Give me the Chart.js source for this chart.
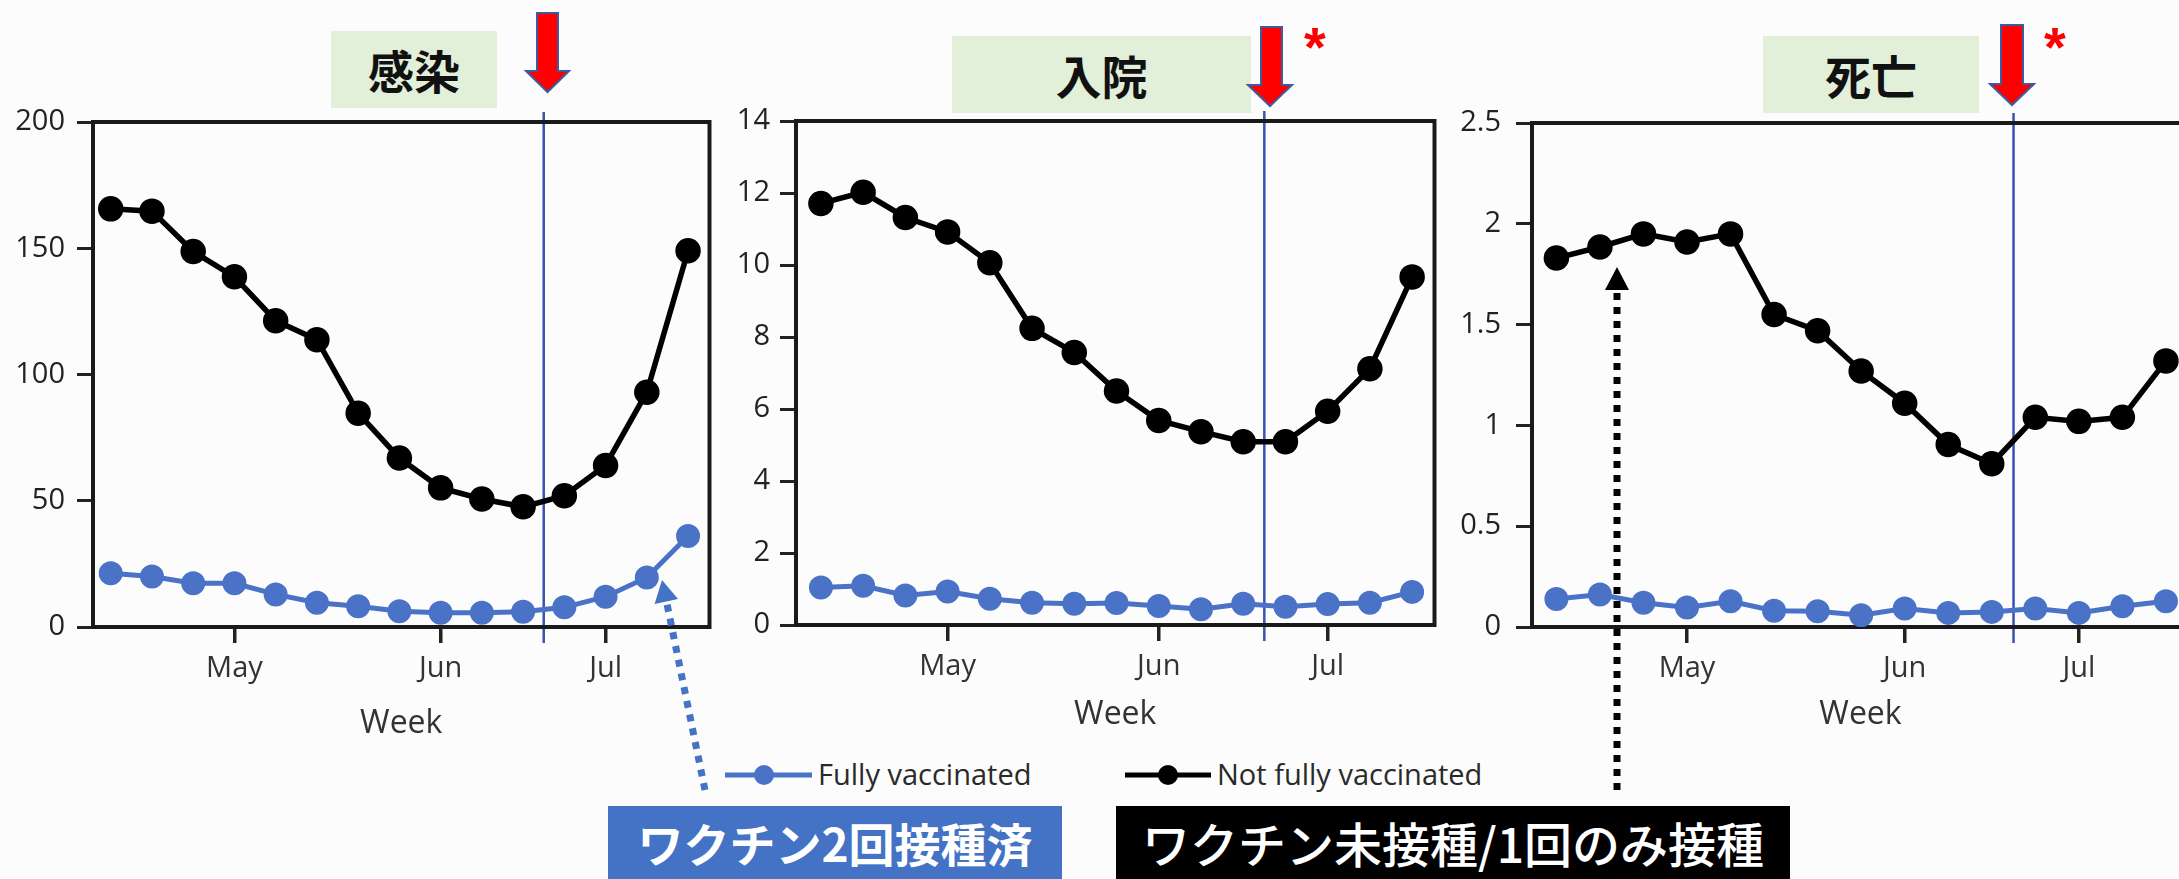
<!DOCTYPE html>
<html>
<head>
<meta charset="utf-8">
<script src="https://cdn.jsdelivr.net/npm/chart.js@4.4.0/dist/chart.umd.min.js"></script>
<style>
body { margin: 0; width: 2179px; height: 879px; overflow: hidden; background: #fbfcfb; position: relative; font-family: 'Open Sans', sans-serif; }
.wrap { position: absolute; }
.title { position: absolute; background: #e2efd9; color: #111; font-family: 'Noto Sans CJK JP', sans-serif; font-weight: 700; font-size: 46px; text-align: center; }
.leg { position: absolute; font-family: 'Open Sans', sans-serif; font-size: 29px; color: #2a2a2a; height: 40px; line-height: 40px; white-space: nowrap; }
.tag { position: absolute; color: #fff; font-family: 'Noto Sans CJK JP', sans-serif; text-align: center; white-space: nowrap; }
svg { position: absolute; left: 0; top: 0; }
</style>
</head>
<body>

<div class="wrap" style="left:0px;top:0px;width:725px;height:743px"><canvas id="cases"></canvas></div>
<div class="wrap" style="left:720px;top:0px;width:730px;height:734px"><canvas id="hosp"></canvas></div>
<div class="wrap" style="left:1450px;top:0px;width:760px;height:734px"><canvas id="death"></canvas></div>

<div class="title" style="left:331px;top:31px;width:166px;height:77px;line-height:77px">感染</div>
<div class="title" style="left:952px;top:36px;width:299px;height:77px;line-height:77px">入院</div>
<div class="title" style="left:1763px;top:36px;width:216px;height:77px;line-height:77px">死亡</div>

<div class="leg" style="left:818px;top:754px">Fully vaccinated</div>
<div class="leg" style="left:1217px;top:754px">Not fully vaccinated</div>

<div class="tag" style="left:608px;top:806px;width:454px;height:73px;line-height:73px;background:#4472c4;font-size:46px;font-weight:700">ワクチン2回接種済</div>
<div class="tag" style="left:1116px;top:806px;width:674px;height:73px;line-height:73px;background:#000;font-size:48px;font-weight:500">ワクチン未接種/1回のみ接種</div>

<svg width="2179" height="879">
  <!-- red arrows at the Delta line -->
  <g fill="#ff0000" stroke="#3f5a9e" stroke-width="2">
    <polygon points="537,13 558,13 558,71 569,71 547.5,92 526,71 537,71"/>
    <polygon points="1261,27 1282,27 1282,85 1292,85 1270,106 1248,85 1261,85"/>
    <polygon points="2001,25 2023,25 2023,84 2034,84 2012,105 1990,84 2001,84"/>
  </g>
  <text x="1315" y="66" fill="#ff0000" font-family="Liberation Sans" font-weight="700" font-size="56" text-anchor="middle">*</text>
  <text x="2055" y="66" fill="#ff0000" font-family="Liberation Sans" font-weight="700" font-size="56" text-anchor="middle">*</text>

  <!-- legend markers -->
  <line x1="725" y1="775" x2="812" y2="775" stroke="#4a72c6" stroke-width="5"/>
  <circle cx="764" cy="775" r="10" fill="#4a72c6"/>
  <line x1="1125" y1="775" x2="1211" y2="775" stroke="#000" stroke-width="5"/>
  <circle cx="1168" cy="775" r="10" fill="#000"/>

  <!-- dotted pointers -->
  <line x1="705" y1="790" x2="667" y2="604" stroke="#4472c4" stroke-width="7" stroke-dasharray="7 7"/>
  <polygon points="662,580 678,599 654.6,604" fill="#4472c4"/>
  <line x1="1617" y1="790" x2="1617" y2="290" stroke="#000" stroke-width="7" stroke-dasharray="7 7"/>
  <polygon points="1617,267 1629,290 1605,290" fill="#000"/>
</svg>

<script>
// week starting dates (x index = position in this list)
const weeks = ['4/4', '4/11', '4/18', '4/25', '5/2', '5/9', '5/16', '5/23', '5/30', '6/6', '6/13', '6/20', '6/27', '7/4', '7/11']
const monthTicks = [3, 8, 12]
const monthLabels = ['May', 'Jun', 'Jul']
const deltaWeek = 10.5

const casesNot = [165.6, 164.7, 148.7, 138.7, 121.3, 113.8, 84.7, 66.9, 55.1, 50.7, 47.6, 52, 64, 93, 149]
const casesFull = [21.3, 20, 17.3, 17.3, 12.9, 9.6, 8.2, 6.2, 5.6, 5.6, 6, 7.8, 12, 19.6, 36]
const hospNot = [11.71, 12.02, 11.32, 10.92, 10.06, 8.24, 7.57, 6.5, 5.68, 5.37, 5.09, 5.09, 5.94, 7.12, 9.67]
const hospFull = [1.04, 1.09, 0.82, 0.93, 0.73, 0.62, 0.59, 0.61, 0.53, 0.44, 0.59, 0.51, 0.58, 0.62, 0.92]
const deathNot = [1.83, 1.885, 1.95, 1.91, 1.95, 1.55, 1.47, 1.27, 1.11, 0.905, 0.81, 1.04, 1.02, 1.04, 1.32]
const deathFull = [0.139, 0.161, 0.12, 0.097, 0.128, 0.081, 0.078, 0.058, 0.092, 0.07, 0.075, 0.092, 0.07, 0.103, 0.128]

const boxPlugin = {
    id: 'box',
    beforeDatasetsDraw(chart) {
        const {ctx, chartArea: a, scales: {x}} = chart
        ctx.save()
        let ex = x.getPixelForValue(deltaWeek)
        ctx.strokeStyle = '#3852b2'
        ctx.lineWidth = 2.5
        ctx.beginPath()
        ctx.moveTo(ex, a.top - 10)
        ctx.lineTo(ex, a.bottom + 16)
        ctx.stroke()
        ctx.strokeStyle = '#1a1a1a'
        ctx.lineWidth = 4
        ctx.strokeRect(a.left, a.top, a.right - a.left, a.bottom - a.top)
        ctx.restore()
    }
}

function toPoints(arr) {
    return arr.map((v, i) => ({x: i, y: v}))
}

function weekChart(id, notFull, full, o) {
    const data = {
        labels: weeks,
        datasets: [{
                label: 'Not fully vaccinated',
                data: toPoints(notFull),
                borderColor: '#000',
                backgroundColor: '#000',
                borderWidth: 5.5,
                pointRadius: 10,
                pointHoverRadius: 10
            }, {
                label: 'Fully vaccinated',
                data: toPoints(full),
                borderColor: '#4a72c6',
                backgroundColor: '#4a72c6',
                borderWidth: 5,
                pointRadius: 9.5,
                pointHoverRadius: 9.5
            }]
    }

    const config = {
        type: 'line',
        data: data,
        options: {
            responsive: true,
            maintainAspectRatio: false,
            animation: false,
            layout: {padding: {top: o.top, right: o.right, left: 0, bottom: 0}},
            plugins: {legend: {display: false}, tooltip: {enabled: false}},
            scales: {
                x: {
                    type: 'linear',
                    min: o.xMin,
                    max: o.xMax,
                    afterBuildTicks: s => { s.ticks = monthTicks.map(v => ({value: v})) },
                    afterFit: s => { s.height = o.xH },
                    ticks: {
                        callback: (v, i) => monthLabels[i],
                        autoSkip: false,
                        maxRotation: 0,
                        padding: 8,
                        color: '#333',
                        font: {family: 'Open Sans', size: 29}
                    },
                    grid: {drawOnChartArea: false, tickLength: 16, lineWidth: 3.5, color: '#222'},
                    border: {display: false},
                    title: {display: true, text: 'Week', color: '#333', padding: 0, font: {family: 'Open Sans', size: 32}}
                },
                y: {
                    min: 0,
                    max: o.yMax,
                    afterFit: s => { s.width = o.yW },
                    ticks: {
                        stepSize: o.step,
                        padding: o.pad,
                        color: '#222',
                        callback: v => String(+v.toFixed(1)),
                        font: {family: 'Open Sans', size: 29}
                    },
                    grid: {drawOnChartArea: false, tickLength: 16, lineWidth: 3, color: '#222'},
                    border: {display: false}
                }
            }
        },
        plugins: [boxPlugin]
    }

    let ctx = document.getElementById(id).getContext('2d')
    new Chart(ctx, config)
}

weekChart('cases', casesNot, casesFull, {top: 122, right: 14, yW: 93, pad: 12, xH: 116, xMin: -0.43, xMax: 14.52, yMax: 200, step: 50})
weekChart('hosp', hospNot, hospFull, {top: 121, right: 15, yW: 76, pad: 10, xH: 109, xMin: -0.59, xMax: 14.53, yMax: 14, step: 2})
weekChart('death', deathNot, deathFull, {top: 123, right: 21, yW: 82, pad: 15, xH: 107, xMin: -0.56, xMax: 14.53, yMax: 2.5, step: 0.5})
</script>
</body>
</html>
